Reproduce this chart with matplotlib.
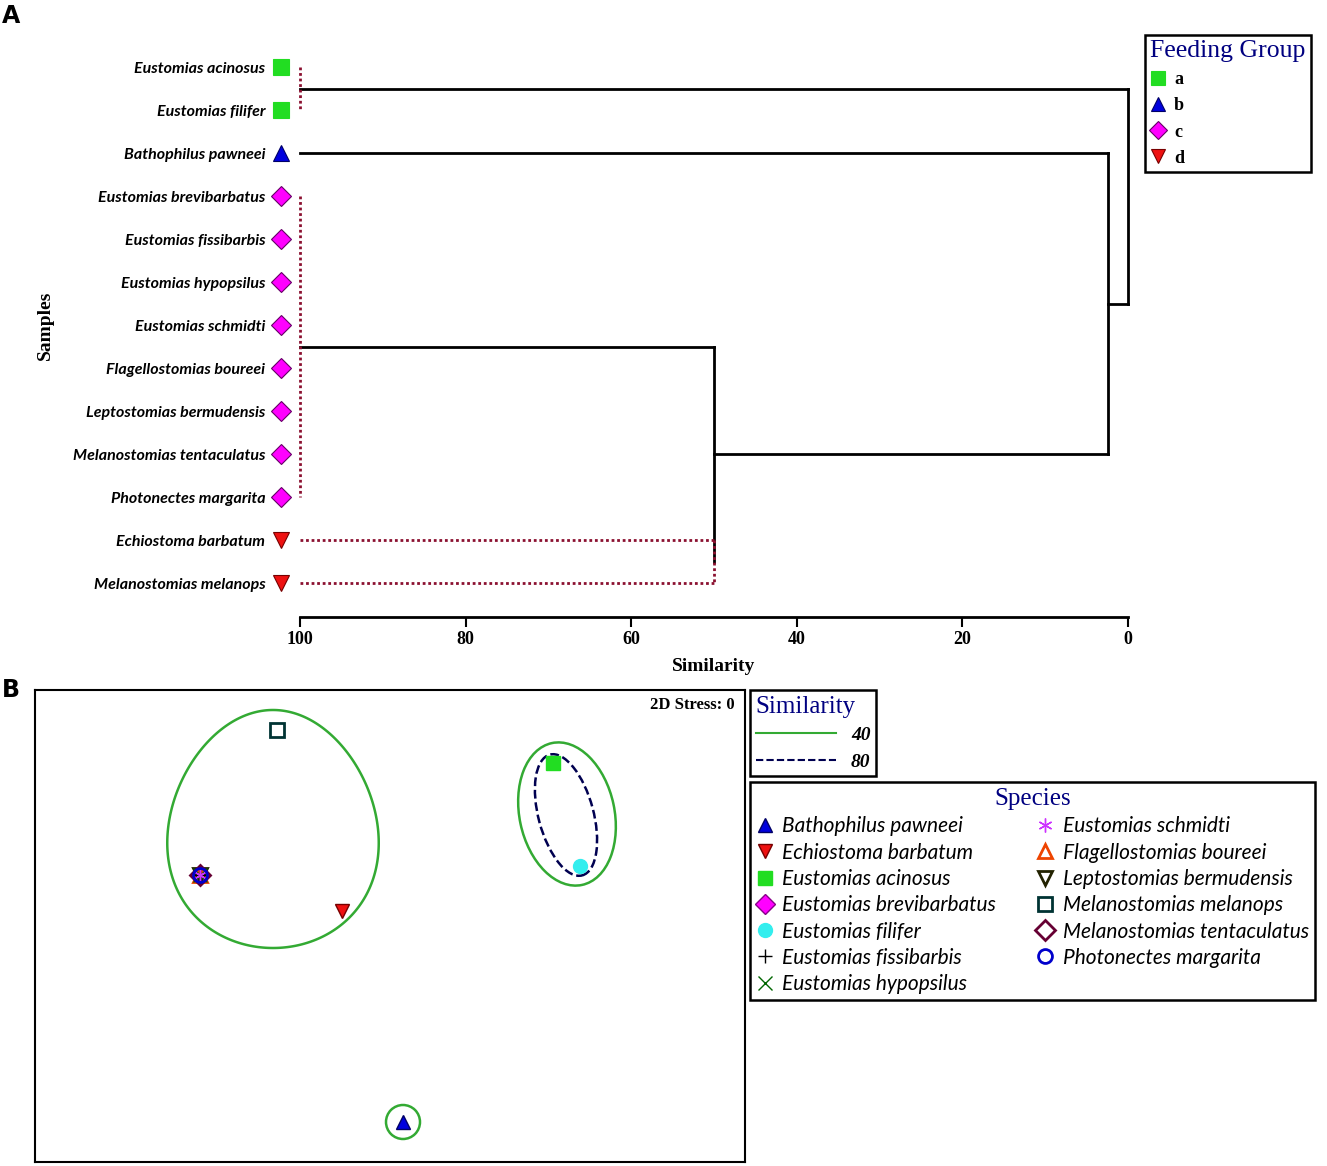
import numpy as np
import matplotlib.pyplot as plt
from matplotlib.patches import Ellipse, Circle, Polygon
from matplotlib.lines import Line2D

W, H = 1327, 1166
SERIF = ['Liberation Serif', 'DejaVu Serif']
SANS = ['Lato', 'DejaVu Sans']
NAVY = '#000080'


def rect(x0, y0, x1, y1):
    # pixel box (top-left origin) -> figure fraction
    return [x0 / W, 1 - y1 / H, (x1 - x0) / W, (y1 - y0) / H]


# ---- panel A: dendrogram data ----
leaves = ['Eustomias acinosus', 'Eustomias filifer', 'Bathophilus pawneei',
          'Eustomias brevibarbatus', 'Eustomias fissibarbis', 'Eustomias hypopsilus',
          'Eustomias schmidti', 'Flagellostomias boureei', 'Leptostomias bermudensis',
          'Melanostomias tentaculatus', 'Photonectes margarita',
          'Echiostoma barbatum', 'Melanostomias melanops']
leaf_group = ['a', 'a', 'b', 'c', 'c', 'c', 'c', 'c', 'c', 'c', 'c', 'd', 'd']

# merges: (children node ids, similarity, not significant -> dotted)
merges = [
    ([0, 1], 100, True),
    ([3, 4, 5, 6, 7, 8, 9, 10], 100, True),
    ([11, 12], 50, True),
    ([14, 15], 50, False),
    ([2, 16], 2.4, False),
    ([13, 17], 0, False),
]

groups = ['a', 'b', 'c', 'd']
group_marker = {'a': 's', 'b': '^', 'c': 'D', 'd': 'v'}
group_color = {'a': '#22dd22', 'b': '#0000dd', 'c': '#ff00ff', 'd': '#ee1111'}
group_edge = {'a': '#22dd22', 'b': '#000066', 'c': '#660066', 'd': '#770000'}
group_size = {'a': 11, 'b': 11, 'c': 10, 'd': 11}

# ---- panel B: nMDS data ----
species = ['Bathophilus pawneei', 'Echiostoma barbatum', 'Eustomias acinosus',
           'Eustomias brevibarbatus', 'Eustomias filifer', 'Eustomias fissibarbis',
           'Eustomias hypopsilus', 'Eustomias schmidti', 'Flagellostomias boureei',
           'Leptostomias bermudensis', 'Melanostomias melanops',
           'Melanostomias tentaculatus', 'Photonectes margarita']
nmds_x = [0.065, -0.24, 0.815, -0.95, 0.95, -0.95, -0.95, -0.95, -0.95, -0.95, -0.565, -0.95, -0.95]
nmds_y = [-0.98, 0.075, 0.815, 0.255, 0.30, 0.255, 0.255, 0.255, 0.255, 0.255, 0.98, 0.255, 0.255]
sp_marker = ['^', 'v', 's', 'D', 'o', '+', 'x', (6, 2, 0), '^', 'v', 's', 'D', 'o']
sp_face = ['#0000dd', '#ee1111', '#22dd22', '#ff00ff', '#33eeee', 'black', '#006600',
           '#cc33ff', 'none', 'none', 'none', 'none', 'none']
sp_edge = ['#000066', '#770000', '#22dd22', '#880088', '#33eeee', 'black', '#006600',
           '#cc33ff', '#ee4400', '#222200', '#003333', '#660033', '#0000cc']
sp_z = [4, 4, 4, 3, 4, 4, 4, 4, 3, 3, 4, 5, 6]

# similarity contours (40 % green, 80 % dashed)
egg_center, egg_a, egg_b, egg_k = (-0.585, 0.485), 0.525, 0.595, 0.12
ell40 = dict(xy=(0.885, 0.56), width=0.475, height=0.725, angle=12)
ell80 = dict(xy=(0.88, 0.555), width=0.275, height=0.625, angle=15)
circ40 = dict(xy=(0.065, -0.98), radius=0.085)

fig = plt.figure(figsize=(W / 100, H / 100), dpi=100)

# ================= panel A =================
axA = fig.add_axes(rect(300, 40, 1128, 617))
axA.set_xlim(100, 0)
axA.set_ylim(12.79, -0.63)
for s in ['left', 'right', 'top']:
    axA.spines[s].set_visible(False)
axA.spines['bottom'].set_linewidth(2)
axA.set_xticks([100, 80, 60, 40, 20, 0])
axA.tick_params(axis='x', length=7, width=1.5, labelsize=13, pad=3)
for lab in axA.get_xticklabels():
    lab.set_fontfamily(SERIF)
    lab.set_fontweight('bold')
axA.set_yticks(range(len(leaves)))
axA.set_yticklabels(leaves, fontfamily=SANS, fontstyle='italic', fontweight='bold', fontsize=11.5)
axA.tick_params(axis='y', length=0, pad=25)
axA.set_xlabel('Similarity', fontfamily=SERIF, fontweight='bold', fontsize=14, labelpad=7)

ypos = {i: float(i) for i in range(len(leaves))}
xpos = {i: 100.0 for i in range(len(leaves))}
for k, (children, sim, dotted) in enumerate(merges):
    node = len(leaves) + k
    if dotted:
        kw = dict(color='#8b1030', lw=2, ls=(0, (1, 1)), zorder=3)
    else:
        kw = dict(color='black', lw=2, ls='-', zorder=2)
    ys = [ypos[c] for c in children]
    axA.plot([sim, sim], [min(ys), max(ys)], clip_on=False, **kw)
    for c in children:
        if xpos[c] != sim:
            axA.plot([xpos[c], sim], [ypos[c], ypos[c]], clip_on=False, **kw)
    ypos[node] = float(np.mean(ys))
    xpos[node] = sim

for i, g in enumerate(leaf_group):
    axA.plot(102.3, i, marker=group_marker[g], ms=group_size[g], mfc=group_color[g],
             mec=group_edge[g], mew=0.8, ls='', clip_on=False, zorder=5)

fig.text(45 / W, 1 - 325 / H, 'Samples', rotation=90, ha='center', va='center',
         fontfamily=SERIF, fontweight='bold', fontsize=14)
fig.text(2 / W, 1 - 16 / H, 'A', ha='left', va='center', fontfamily=['DejaVu Sans'],
         fontweight='bold', fontsize=17)
fig.text(2 / W, 1 - 690 / H, 'B', ha='left', va='center', fontfamily=['DejaVu Sans'],
         fontweight='bold', fontsize=17)

fg_handles = [Line2D([], [], ls='', marker=group_marker[g], ms=group_size[g] - 1,
                     mfc=group_color[g], mec=group_edge[g], mew=0.8) for g in groups]
legA = fig.legend(fg_handles, groups, loc='upper left', bbox_to_anchor=(1145 / W, 1 - 35 / H),
                  title='Feeding Group', alignment='left', fancybox=False, edgecolor='black',
                  framealpha=1, handlelength=0.8, handletextpad=0.5, labelspacing=0.5,
                  borderpad=0.3, borderaxespad=0,
                  prop=dict(family=SERIF, weight='bold', size=13),
                  title_fontproperties=dict(family=SERIF, size=18.5))
legA.get_title().set_color(NAVY)
legA.get_frame().set_linewidth(1.8)

# ================= panel B =================
axB = fig.add_axes(rect(35, 690, 745, 1162))
axB.set_xlim(-1.775, 1.775)
axB.set_ylim(-1.18, 1.18)
axB.set_xticks([])
axB.set_yticks([])
for s in axB.spines.values():
    s.set_linewidth(1.5)

t = np.linspace(0, 2 * np.pi, 300, endpoint=False)
egg_x = egg_center[0] + egg_a * np.cos(t) * (1 - egg_k * np.sin(t))
egg_y = egg_center[1] + egg_b * np.sin(t)
axB.add_patch(Polygon(np.column_stack([egg_x, egg_y]), closed=True, fill=False,
                      ec='#33aa33', lw=1.8))
axB.add_patch(Ellipse(fill=False, ec='#33aa33', lw=1.8, **ell40))
axB.add_patch(Ellipse(fill=False, ec='#000050', lw=1.8, ls=(0, (3.5, 1.5)), **ell80))
axB.add_patch(Circle(fill=False, ec='#33aa33', lw=1.8, **circ40))

for i, name in enumerate(species):
    axB.plot(nmds_x[i], nmds_y[i], ls='', marker=sp_marker[i], ms=10,
             mfc=sp_face[i], mec=sp_edge[i], mew=2 if sp_face[i] == 'none' else 1,
             zorder=sp_z[i], label=name)

axB.text(0.985, 0.985, '2D Stress: 0', transform=axB.transAxes, ha='right', va='top',
         fontfamily=SERIF, fontweight='bold', fontsize=12)

sim_handles = [Line2D([], [], color='#33aa33', lw=1.5),
               Line2D([], [], color='#000050', lw=1.5, ls=(0, (3.5, 1.5)))]
legS = fig.legend(sim_handles, ['40', '80'], loc='upper left', bbox_to_anchor=(750 / W, 1 - 690 / H),
                  title='Similarity', alignment='left', fancybox=False, edgecolor='black',
                  framealpha=1, handlelength=4.1, handletextpad=0.8, labelspacing=0.45,
                  borderpad=0.3, borderaxespad=0,
                  prop=dict(family=SERIF, style='italic', weight='bold', size=14),
                  title_fontproperties=dict(family=SERIF, size=18))
legS.get_title().set_color(NAVY)
legS.get_frame().set_linewidth(1.8)

sp_handles, sp_labels = axB.get_legend_handles_labels()
legB = fig.legend(sp_handles, sp_labels, loc='upper left', bbox_to_anchor=(750 / W, 1 - 782 / H),
                  ncol=2, title='Species', fancybox=False, edgecolor='black', framealpha=1,
                  handlelength=0.8, handletextpad=0.45, labelspacing=0.3, columnspacing=1.95,
                  borderpad=0.3, borderaxespad=0, markerscale=1.0,
                  prop=dict(family=SANS, style='italic', size=15),
                  title_fontproperties=dict(family=SERIF, size=18))
legB.get_title().set_color(NAVY)
legB.get_frame().set_linewidth(1.8)

fig.savefig('out.png', dpi=100)
